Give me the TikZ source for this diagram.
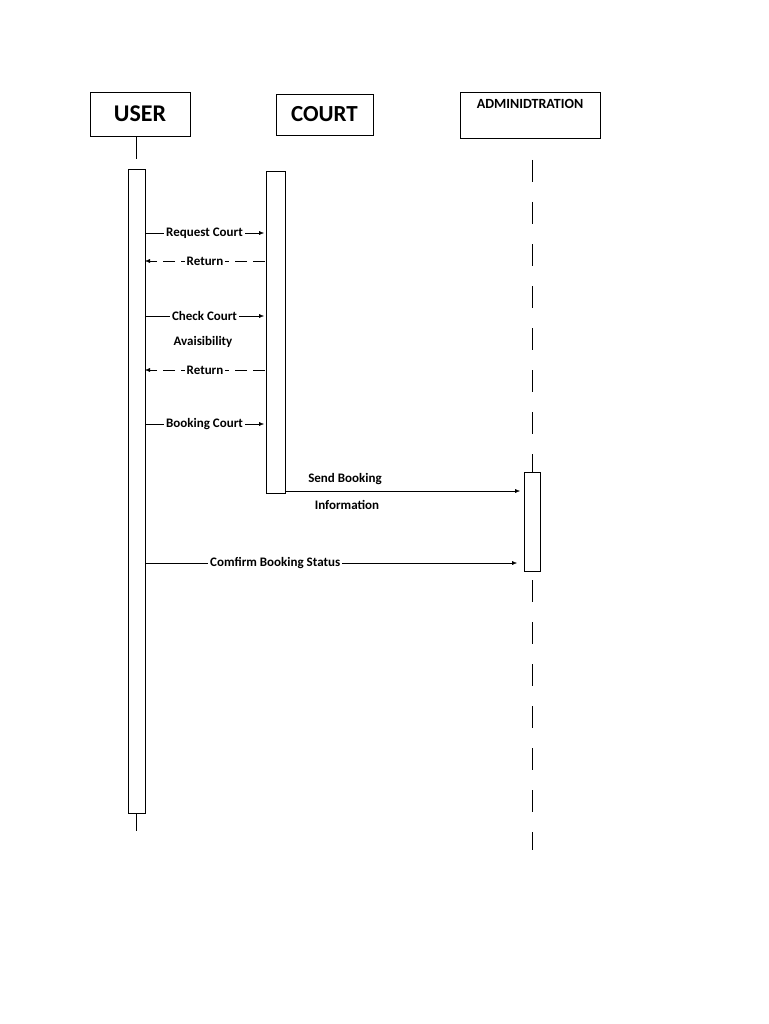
\documentclass[tikz,border=0pt]{standalone}
\usepackage{fontspec}
\setmainfont{Carlito}
\usetikzlibrary{arrows.meta}
\begin{document}
\begin{tikzpicture}[x=1pt,y=-1pt,
  actor/.style={draw,minimum width=100pt,minimum height=44pt,font=\bfseries\fontsize{24}{28}\selectfont},
  act/.style={draw,fill=white,minimum width=17pt,anchor=north},
  life/.style={dash pattern=on 22pt off 20pt},
  msg/.style={-{Latex[length=5pt,width=4pt]},thin},
  ret/.style={-{Latex[length=5pt,width=4pt]},thin,dash pattern=on 12pt off 6pt},
  lbl/.style={fill=white,font=\bfseries\fontsize{13}{15}\selectfont,inner sep=2pt}]
\useasboundingbox (0,0) rectangle (768,1024);
% actors
\node[actor] (user) at (140,114) {USER};
\node[actor,minimum width=97pt,minimum height=41pt,font=\bfseries\fontsize{23}{27}\selectfont] (court) at (324.5,114.5) {COURT};
\node[draw,minimum width=140pt,minimum height=46pt] (admin) at (530,115) {};
\node[font=\bfseries\fontsize{14}{16}\selectfont,anchor=north] (admintxt) at (530,96) {ADMINIDTRATION};
% lifelines
\draw[life] (136,137) -- (136,845);
\draw[life] (532,160) -- (532,850);
% activations
\node[act,minimum height=644pt] (ua) at (136.5,169) {};
\node[act,minimum height=322pt,minimum width=19pt] (ca) at (275.5,171) {};
\node[act,minimum height=99pt,minimum width=16pt] (aa) at (532,472) {};
% messages
\draw[msg] (145,233) -- node[lbl] {Request Court} (264,233);
\draw[ret] (265,261) -- node[lbl] {Return} (145,261);
\draw[msg] (145,316) -- node[lbl] (chk) {Check Court} (264,316);
\node[lbl] (avail) at (203,342) {Avaisibility};
\draw[ret] (265,370) -- node[lbl] {Return} (145,370);
\draw[msg] (145,424) -- node[lbl] {Booking Court} (264,424);
\draw[msg] (285,491) -- (520,491);
\node[lbl] (send) at (345,479) {Send Booking};
\node[lbl] (info) at (347,505) {Information};
\draw[msg] (145,563) -- node[lbl,pos=0.35] {Comfirm Booking Status} (517,563);
\end{tikzpicture}
\end{document}
